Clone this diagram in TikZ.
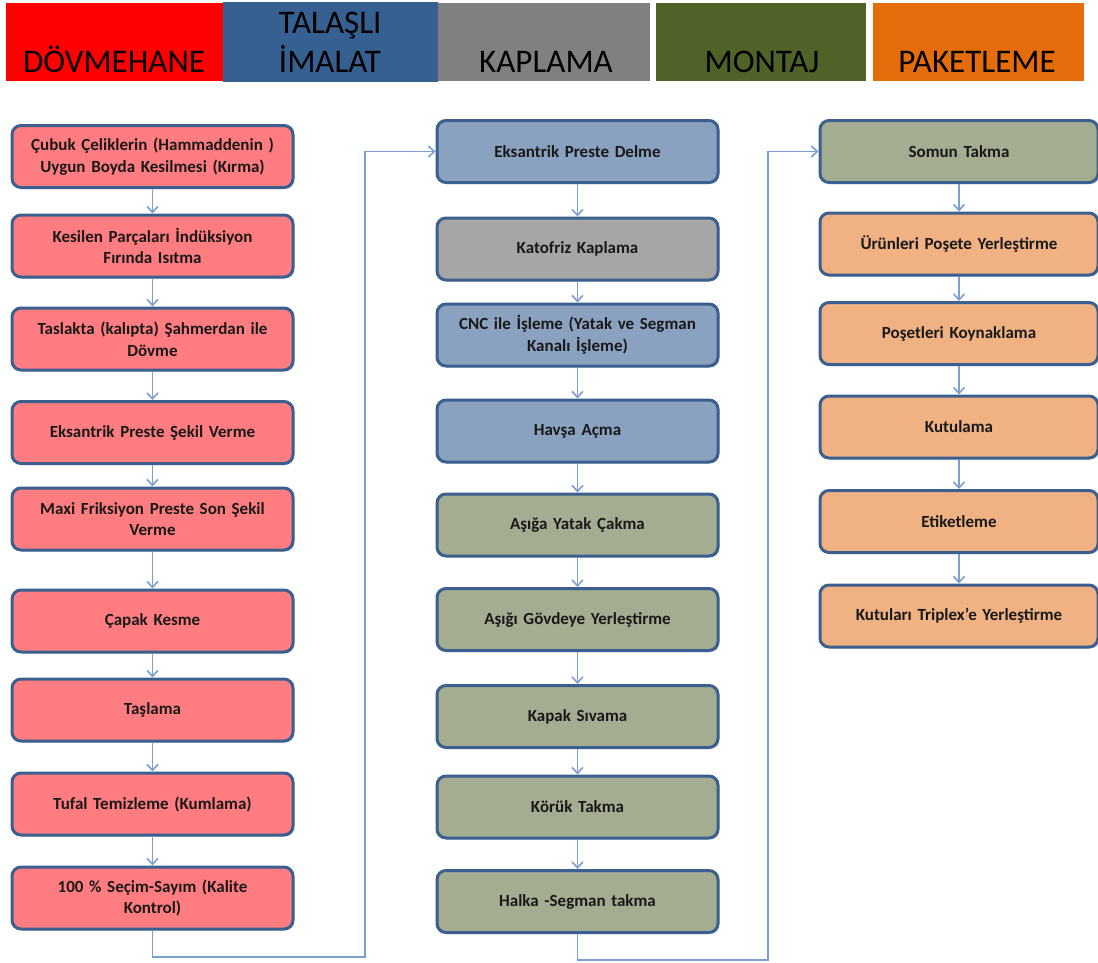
\documentclass[tikz,border=0pt]{standalone}
\usepackage{fontspec}
\setmainfont{Carlito}
\usetikzlibrary{arrows.meta,shadows}

\definecolor{hdrred}{HTML}{FF0000}
\definecolor{hdrblue}{HTML}{376092}
\definecolor{hdrgray}{HTML}{808080}
\definecolor{hdrgreen}{HTML}{4F6228}
\definecolor{hdrorange}{HTML}{E46C0A}
\definecolor{fillpink}{HTML}{FF7C80}
\definecolor{fillblue}{HTML}{8AA2C0}
\definecolor{fillgray}{HTML}{A6A6A6}
\definecolor{fillolive}{HTML}{A4AD91}
\definecolor{fillpeach}{HTML}{F0B183}
\definecolor{boxline}{HTML}{3B5F8F}
\definecolor{flowline}{HTML}{7B9FD0}

\tikzset{
  hdrbox/.style={draw=none, minimum height=78pt, inner sep=0pt, anchor=north west},
  hdrtext/.style={anchor=base, inner sep=0pt, font=\fontsize{33}{39}\selectfont, text=black},
  stepbox/.style={draw=boxline, line width=3pt, rounded corners=9pt,
    minimum width=281pt, minimum height=62pt, inner sep=2pt,
    align=center, text width=274pt, text=black!90,
    font=\bfseries\fontsize{17}{21.5}\selectfont,
    drop shadow={shadow xshift=1.5pt, shadow yshift=-1.5pt, opacity=0.25}},
  rbox/.style={stepbox, minimum width=276pt},
  flow/.style={draw=flowline, line width=1.8pt,
    -{Straight Barb[length=6pt,width=11pt,line width=1.6pt]}}
}

\begin{document}
\begin{tikzpicture}[x=1pt,y=-1pt]
\useasboundingbox (0,0) rectangle (1098,962);
\clip (0,0) rectangle (1098,962);

% department header bands
\node[hdrbox, fill=hdrred,    minimum width=217pt] (hA) at (6,3) {};
\node[hdrbox, fill=hdrblue,   minimum width=215pt, minimum height=80pt] (hB) at (223,2) {};
\node[hdrbox, fill=hdrgray,   minimum width=212pt] (hC) at (438,3) {};
\node[hdrbox, fill=hdrgreen,  minimum width=210pt] (hD) at (656,3) {};
\node[hdrbox, fill=hdrorange, minimum width=211pt] (hE) at (873,3) {};

\node[hdrtext] (tA)  at (114,72) {DÖVMEHANE};
\node[hdrtext] (tB1) at (330,33) {TALAŞLI};
\node[hdrtext] (tB2) at (330,72) {İMALAT};
\node[hdrtext] (tC)  at (546,72) {KAPLAMA};
\node[hdrtext] (tD)  at (762,72) {MONTAJ};
\node[hdrtext] (tE)  at (977,72) {PAKETLEME};

% forging column
\node[stepbox, fill=fillpink] (l1) at (152.5,156.5) {Çubuk Çeliklerin (Hammaddenin )\\Uygun Boyda Kesilmesi (Kırma)};
\node[stepbox, fill=fillpink] (l2) at (152.5,246) {Kesilen Parçaları İndüksiyon\\Fırında Isıtma};
\node[stepbox, fill=fillpink] (l3) at (152.5,339) {Taslakta (kalıpta) Şahmerdan ile\\Dövme};
\node[stepbox, fill=fillpink] (l4) at (152.5,432.5) {Eksantrik Preste Şekil Verme};
\node[stepbox, fill=fillpink] (l5) at (152.5,519) {Maxi Friksiyon Preste Son Şekil\\Verme};
\node[stepbox, fill=fillpink] (l6) at (152.5,621) {Çapak Kesme};
\node[stepbox, fill=fillpink] (l7) at (152.5,710) {Taşlama};
\node[stepbox, fill=fillpink] (l8) at (152.5,804) {Tufal Temizleme (Kumlama)};
\node[stepbox, fill=fillpink] (l9) at (152.5,898) {100 \% Seçim-Sayım (Kalite\\Kontrol)};

% machining, coating and assembly column
\node[stepbox, fill=fillblue]  (m1) at (577.5,151.5) {Eksantrik Preste Delme};
\node[stepbox, fill=fillgray]  (m2) at (577.5,249) {Katofriz Kaplama};
\node[stepbox, fill=fillblue]  (m3) at (577.5,335) {CNC ile İşleme (Yatak ve Segman\\Kanalı İşleme)};
\node[stepbox, fill=fillblue]  (m4) at (577.5,431) {Havşa Açma};
\node[stepbox, fill=fillolive] (m5) at (577.5,525) {Aşığa Yatak Çakma};
\node[stepbox, fill=fillolive] (m6) at (577.5,619.5) {Aşığı Gövdeye Yerleştirme};
\node[stepbox, fill=fillolive] (m7) at (577.5,716.5) {Kapak Sıvama};
\node[stepbox, fill=fillolive] (m8) at (577.5,807) {Körük Takma};
\node[stepbox, fill=fillolive] (m9) at (577.5,901.5) {Halka -Segman takma};

% assembly and packing column
\node[rbox, fill=fillolive] (r1) at (959,151.5) {Somun Takma};
\node[rbox, fill=fillpeach] (r2) at (959,244) {Ürünleri Poşete Yerleştirme};
\node[rbox, fill=fillpeach] (r3) at (959,333.5) {Poşetleri Koynaklama};
\node[rbox, fill=fillpeach] (r4) at (959,427) {Kutulama};
\node[rbox, fill=fillpeach] (r5) at (959,521.5) {Etiketleme};
\node[rbox, fill=fillpeach] (r6) at (959,616) {Kutuları Triplex'e Yerleştirme};

% arrows within the columns
\foreach \a/\b in {l1/l2,l2/l3,l3/l4,l4/l5,l5/l6,l6/l7,l7/l8,l8/l9,
                   m1/m2,m2/m3,m3/m4,m4/m5,m5/m6,m6/m7,m7/m8,m8/m9,
                   r1/r2,r2/r3,r3/r4,r4/r5,r5/r6}
  \draw[flow] (\a.south) -- (\b.north);

% links between the columns
\coordinate (c1) at (365,957);
\coordinate (c2) at (768,960);
\draw[flow] (l9.south) |- (c1) |- (m1.west);
\draw[flow] (m9.south) |- (c2) |- (r1.west);
\end{tikzpicture}
\end{document}
